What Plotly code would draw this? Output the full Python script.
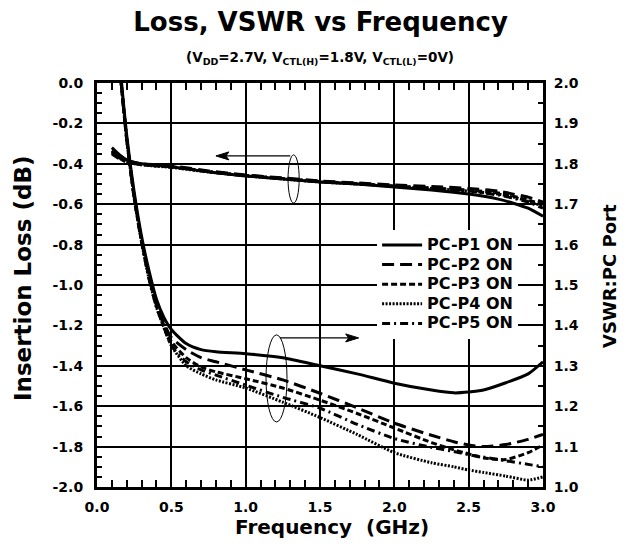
import plotly.graph_objects as go

# ---------------- data ----------------
ports = ["PC-P1 ON", "PC-P2 ON", "PC-P3 ON", "PC-P4 ON", "PC-P5 ON"]

freq_il = [0.1, 0.15, 0.2, 0.3, 0.5, 0.75, 1.0, 1.25, 1.5, 1.75, 2.0, 2.25, 2.5, 2.7, 2.8, 2.9, 3.0]
il_p1 = [-0.32, -0.355, -0.38, -0.40, -0.415, -0.44, -0.46, -0.475, -0.49, -0.50, -0.515, -0.53, -0.55, -0.575, -0.595, -0.62, -0.66]
il_p2 = [-0.335, -0.365, -0.385, -0.40, -0.41, -0.435, -0.455, -0.47, -0.485, -0.495, -0.505, -0.512, -0.522, -0.535, -0.55, -0.565, -0.59]
il_p3 = [-0.34, -0.37, -0.39, -0.405, -0.415, -0.44, -0.458, -0.473, -0.488, -0.498, -0.51, -0.52, -0.53, -0.545, -0.56, -0.58, -0.60]
il_p4 = [-0.345, -0.372, -0.392, -0.405, -0.418, -0.44, -0.46, -0.475, -0.49, -0.50, -0.512, -0.522, -0.535, -0.55, -0.565, -0.585, -0.61]
il_p5 = [-0.35, -0.375, -0.39, -0.402, -0.415, -0.438, -0.458, -0.473, -0.488, -0.50, -0.51, -0.522, -0.535, -0.555, -0.57, -0.59, -0.62]

freq_vswr = [0.15, 0.2, 0.25, 0.3, 0.35, 0.4, 0.45, 0.5, 0.6, 0.7, 0.8, 1.0, 1.25, 1.5, 1.75, 2.0, 2.25, 2.4, 2.5, 2.6, 2.75, 2.9, 3.0]
vswr_p1 = [2.06, 1.87, 1.73, 1.62, 1.535, 1.465, 1.42, 1.39, 1.355, 1.34, 1.335, 1.33, 1.32, 1.30, 1.28, 1.257, 1.24, 1.233, 1.235, 1.24, 1.258, 1.28, 1.31]
vswr_p2 = [2.05, 1.86, 1.72, 1.61, 1.525, 1.455, 1.405, 1.37, 1.34, 1.32, 1.31, 1.29, 1.265, 1.232, 1.196, 1.158, 1.128, 1.112, 1.104, 1.10, 1.105, 1.118, 1.13]
vswr_p3 = [2.05, 1.86, 1.72, 1.61, 1.52, 1.45, 1.40, 1.36, 1.32, 1.297, 1.285, 1.268, 1.245, 1.215, 1.182, 1.146, 1.11, 1.092, 1.082, 1.072, 1.068, 1.085, 1.104]
vswr_p4 = [2.05, 1.86, 1.715, 1.605, 1.515, 1.445, 1.395, 1.35, 1.30, 1.28, 1.265, 1.245, 1.21, 1.172, 1.13, 1.085, 1.06, 1.05, 1.042, 1.036, 1.027, 1.017, 1.025]
vswr_p5 = [2.05, 1.86, 1.715, 1.605, 1.515, 1.445, 1.395, 1.35, 1.31, 1.29, 1.277, 1.252, 1.222, 1.195, 1.155, 1.12, 1.098, 1.088, 1.08, 1.074, 1.065, 1.056, 1.05]

x_tickvals = [0.0, 0.5, 1.0, 1.5, 2.0, 2.5, 3.0]
x_ticktext = ["0.0", "0.5", "1.0", "1.5", "2.0", "2.5", "3.0"]
y_tickvals = [0.0, -0.2, -0.4, -0.6, -0.8, -1.0, -1.2, -1.4, -1.6, -1.8, -2.0]
y_ticktext = ["0.0", "-0.2", "-0.4", "-0.6", "-0.8", "-1.0", "-1.2", "-1.4", "-1.6", "-1.8", "-2.0"]
y2_tickvals = [1.0, 1.1, 1.2, 1.3, 1.4, 1.5, 1.6, 1.7, 1.8, 1.9, 2.0]
y2_ticktext = ["1.0", "1.1", "1.2", "1.3", "1.4", "1.5", "1.6", "1.7", "1.8", "1.9", "2.0"]

# ---------------- styles ----------------
FONT = "DejaVu Sans"
dashes = ["solid", "12px,6px", "6px,3px", "2px,1.5px", "8px,4px,2px,4px"]
il_all = [il_p1, il_p2, il_p3, il_p4, il_p5]
vs_all = [vswr_p1, vswr_p2, vswr_p3, vswr_p4, vswr_p5]

fig = go.Figure()
for i, name in enumerate(ports):
    fig.add_trace(go.Scatter(
        x=freq_il, y=il_all[i], mode="lines",
        name='<span style="font-size:16px">' + name + "</span>", legendgroup=name,
        line=dict(color="black", width=3, dash=dashes[i], shape="spline", smoothing=0.6),
        yaxis="y"))
for i, name in enumerate(ports):
    fig.add_trace(go.Scatter(
        x=freq_vswr, y=vs_all[i], mode="lines", name=name, legendgroup=name,
        showlegend=False,
        line=dict(color="black", width=3, dash=dashes[i], shape="spline", smoothing=0.6),
        yaxis="y2"))

tickfont = dict(family=FONT, size=14, color="black", weight="bold")

fig.update_layout(
    width=631, height=550,
    margin=dict(l=97, r=88, t=83, b=63),
    paper_bgcolor="white", plot_bgcolor="white",
    showlegend=True,
    title=dict(text="Loss, VSWR vs Frequency", x=0.508, xanchor="center",
               y=1 - 22 / 550, yanchor="middle", yref="container",
               font=dict(family=FONT, size=26, color="black", weight="bold")),
    xaxis=dict(range=[0, 3.0], tickvals=x_tickvals, ticktext=x_ticktext,
               showgrid=True, gridcolor="black", gridwidth=2,
               showline=True, linecolor="black", linewidth=3, mirror="allticks",
               ticks="inside", ticklen=7, tickwidth=2, tickcolor="black",
               minor=dict(dtick=0.1, ticks="inside", ticklen=5, tickwidth=2, tickcolor="black", showgrid=False),
               tickfont=tickfont, ticklabelstandoff=5, zeroline=False),
    yaxis=dict(range=[-2.0, 0.0], tickvals=y_tickvals, ticktext=y_ticktext,
               showgrid=True, gridcolor="black", gridwidth=2,
               showline=True, linecolor="black", linewidth=3,
               ticks="inside", ticklen=7, tickwidth=2, tickcolor="black",
               minor=dict(dtick=0.05, ticks="inside", ticklen=5, tickwidth=2, tickcolor="black", showgrid=False),
               tickfont=tickfont, ticklabelstandoff=8, zeroline=False),
    yaxis2=dict(range=[1.0, 2.0], tickvals=y2_tickvals, ticktext=y2_ticktext,
                overlaying="y", side="right", showgrid=False,
                showline=True, linecolor="black", linewidth=3,
                ticks="inside", ticklen=7, tickwidth=2, tickcolor="black",
                minor=dict(dtick=0.05, ticks="inside", ticklen=5, tickwidth=2, tickcolor="black", showgrid=False),
                tickfont=tickfont, ticklabelstandoff=5, zeroline=False),
    legend=dict(x=0.628, y=0.636, xanchor="left", yanchor="top",
                bgcolor="white", borderwidth=0,
                font=dict(family=FONT, size=12.8, color="black", weight="bold"),
                itemwidth=40, tracegroupgap=0),
)

# subtitle
fig.add_annotation(
    text="(V<sub>DD</sub>=2.7V, V<sub>CTL(H)</sub>=1.8V, V<sub>CTL(L)</sub>=0V)",
    xref="paper", yref="paper", x=0.5, y=1 + 25 / 404, xanchor="center", yanchor="middle",
    showarrow=False, font=dict(family=FONT, size=13.5, color="black", weight="bold"))

# axis titles
fig.add_annotation(text="Frequency\u00a0\u00a0(GHz)", xref="paper", yref="paper",
                   x=(332 - 97) / 446, y=-(527 - 487) / 404, xanchor="center", yanchor="middle",
                   showarrow=False, font=dict(family=FONT, size=20, color="black", weight="bold"))
fig.add_annotation(text="Insertion Loss (dB)", xref="paper", yref="paper",
                   x=-(97 - 23) / 446, y=1 - (278 - 83) / 404, xanchor="center", yanchor="middle",
                   textangle=-90, showarrow=False,
                   font=dict(family=FONT, size=23, color="black", weight="bold"))
fig.add_annotation(text="VSWR:PC Port", xref="paper", yref="paper",
                   x=(609 - 97) / 446, y=1 - (276 - 83) / 404, xanchor="center", yanchor="middle",
                   textangle=-90, showarrow=False,
                   font=dict(family=FONT, size=18, color="black", weight="bold"))

# arrows pointing to the axes (line + arrowhead shapes)
fig.add_shape(type="line", xref="x", yref="y", x0=1.30, x1=0.84, y0=-0.361, y1=-0.361,
              line=dict(color="black", width=1.2))
fig.add_shape(type="path", xref="x", yref="y", xsizemode="pixel", ysizemode="pixel",
              xanchor=0.80, yanchor=-0.361, path="M0,0 L13,4 L10,0 L13,-4 Z",
              fillcolor="black", line=dict(color="black", width=1))
fig.add_shape(type="line", xref="x", yref="y", x0=1.23, x1=1.72, y0=-1.262, y1=-1.262,
              line=dict(color="black", width=1.2))
fig.add_shape(type="path", xref="x", yref="y", xsizemode="pixel", ysizemode="pixel",
              xanchor=1.76, yanchor=-1.262, path="M0,0 L-13,4 L-10,0 L-13,-4 Z",
              fillcolor="black", line=dict(color="black", width=1))
# ellipses grouping curves
fig.add_shape(type="circle", xref="x", yref="y", x0=1.285, x1=1.36, y0=-0.356, y1=-0.594,
              line=dict(color="black", width=1))
fig.add_shape(type="circle", xref="x", yref="y", x0=1.137, x1=1.278, y0=-1.247, y1=-1.678,
              line=dict(color="black", width=1))

fig.write_html("out.html", config={"displayModeBar": False},
               post_script="document.body.style.margin='0';")
